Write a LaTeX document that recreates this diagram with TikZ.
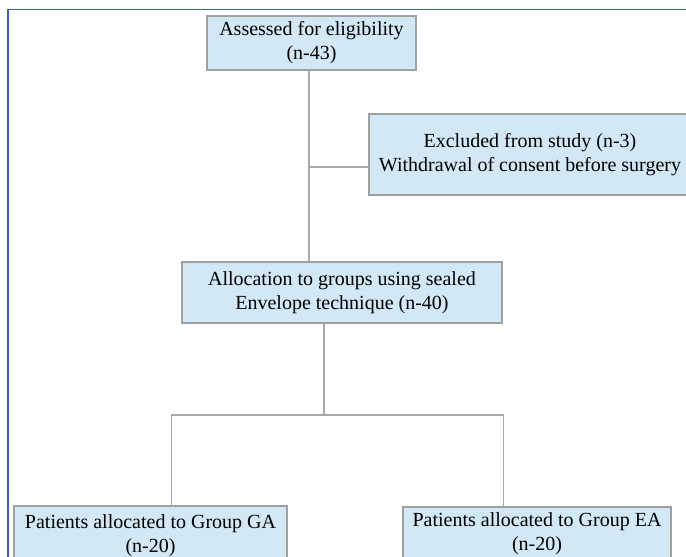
\documentclass[tikz,border=0pt]{standalone}
\usepackage{fontspec}
\setmainfont{Liberation Serif}
\usepackage{tikz}
\usetikzlibrary{calc}

\definecolor{boxfill}{RGB}{210,232,245}
\definecolor{boxline}{RGB}{160,160,160}
\definecolor{framecol}{RGB}{59,95,192}
\definecolor{linkcol}{RGB}{168,168,168}

\tikzset{
	stage/.style={rectangle,draw=boxline,fill=boxfill,line width=1.2pt,align=center,
		inner sep=0pt,font=\fontsize{20}{24}\selectfont},
	link/.style={draw=linkcol,line width=1.1pt}
}

\begin{document}
\begin{tikzpicture}[x=1pt,y=-1pt]
			\useasboundingbox (0,0) rectangle (686,557);
			\clip (0,0) rectangle (686,557);
			\fill[white] (0,0) rectangle (686,557);
			\draw[framecol,line width=1.5pt] (8,9.5) rectangle (700,580);
			% boxes
			\node[stage,minimum width=209pt,minimum height=54pt] (assess) at (311.5,43) {Assessed for eligibility\\(n-43)};
			\node[stage,minimum width=322pt,minimum height=81pt] (excl) at (530,154.5) {Excluded from study (n-3)\\Withdrawal of consent before surgery};
			\node[stage,minimum width=320pt,minimum height=61pt] (alloc) at (342,292.5) {Allocation to groups using sealed\\Envelope technique (n-40)};
			\node[stage,minimum width=273pt,minimum height=60pt] (ga) at (150.5,536) {Patients allocated to Group GA\\(n-20)};
			\node[stage,minimum width=268pt,minimum height=54pt] (ea) at (537,534) {Patients allocated to Group EA\\(n-20)};
			% connectors
			\coordinate (trunk) at (309,0);
			\coordinate (split) at (309,167);
			\coordinate (fork) at (324,415);
			\coordinate (gl) at (171.5,415);
			\coordinate (gr) at (503.5,415);
			\draw[link] (trunk |- assess.south) -- (trunk |- alloc.north);
			\draw[link] (split) -- (split -| excl.west);
			\draw[link] (fork |- alloc.south) -- (fork);
			\draw[link] (gl |- ga.north) -- (gl) -- (gr) -- (gr |- ea.north);
		\end{tikzpicture}
\end{document}
